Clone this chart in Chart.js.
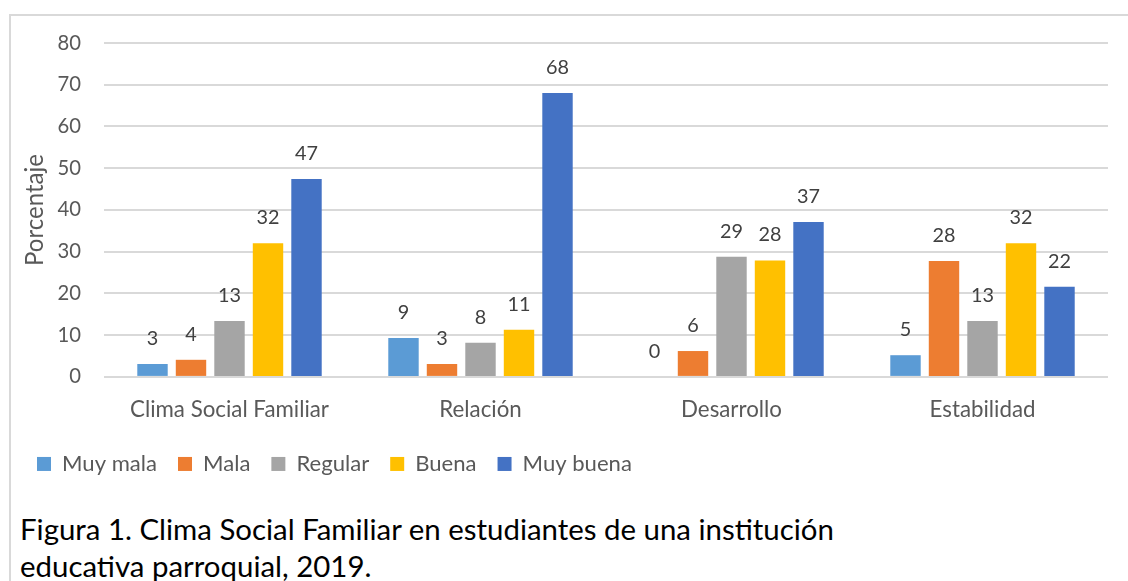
<!DOCTYPE html>
<html>
<head>
<meta charset="utf-8">
<script src="https://cdn.jsdelivr.net/npm/chart.js@4.4.1/dist/chart.umd.min.js"></script>
<style>
  html, body { margin: 0; padding: 0; background: #ffffff; }
  body { width: 1128px; height: 581px; overflow: hidden; position: relative; }
  #frame { position: absolute; left: 9px; top: 14px; width: 1200px; height: 700px;
           border-left: 2px solid #d9d9d9; border-top: 2px solid #d9d9d9; box-sizing: border-box; }
  #wrap { position: absolute; left: 0; top: 0; width: 1128px; height: 495px; }
  #caption { position: absolute; left: 20px; top: 510px; font-family: Lato, "Liberation Sans", sans-serif;
             font-size: 28px; line-height: 37px; color: #000; white-space: nowrap; }
</style>
</head>
<body>
<div id="frame"></div>
<div id="wrap"><canvas id="c" width="1128" height="495"></canvas></div>
<div id="caption"><div id="cap1">Figura 1. Clima Social Familiar en estudiantes de una institución</div><div>educativa parroquial, 2019.</div></div>
<script>
const categories = ["Clima Social Familiar", "Relación", "Desarrollo", "Estabilidad"];
const seriesNames = ["Muy mala", "Mala", "Regular", "Buena", "Muy buena"];
const muyMala  = [3.1, 9.3, 0, 5.2];
const mala     = [4.1, 3.1, 6.2, 27.8];
const regular  = [13.4, 8.2, 28.8, 13.4];
const buena    = [32.0, 11.3, 27.9, 32.0];
const muyBuena = [47.4, 68.0, 37.1, 21.6];
const yTicks = [0, 10, 20, 30, 40, 50, 60, 70, 80];
const colors = ["#5B9BD5", "#ED7D31", "#A5A5A5", "#FFC000", "#4472C4"];

const FONT = 'Lato, "Liberation Sans", sans-serif';

// font sizes fitted to the reference text widths
const meas = document.createElement('canvas').getContext('2d');
function fit(text, target, base) {
  meas.font = base + 'px ' + FONT;
  return +(base * target / meas.measureText(text).width).toFixed(2);
}
const xSize = fit('Clima Social Familiar', 199, 18);
const ySize = fit('80', 23.5, 20);
const legendSize = fit('Muy mala', 95, 18);
const labelSize = fit('47', 23, 20);
const titleSize = fit('Porcentaje', 112, 20);
document.getElementById('caption').style.fontSize =
  fit(document.getElementById('cap1').textContent, 815, 28) + 'px';

const valueLabels = {
  id: 'valueLabels',
  afterDatasetsDraw(chart) {
    const ctx = chart.ctx;
    ctx.save();
    ctx.font = labelSize + 'px ' + FONT;
    ctx.fillStyle = '#404040';
    ctx.textAlign = 'center';
    ctx.textBaseline = 'alphabetic';
    chart.data.datasets.forEach((ds, i) => {
      const meta = chart.getDatasetMeta(i);
      meta.data.forEach((bar, j) => {
        ctx.fillText(String(Math.round(ds.data[j])), bar.x, bar.y - 19);
      });
    });
    ctx.restore();
  }
};

const seriesData = [muyMala, mala, regular, buena, muyBuena];
new Chart(document.getElementById('c'), {
  type: 'bar',
  data: {
    labels: categories,
    datasets: seriesNames.map((n, i) => ({
      label: n,
      data: seriesData[i],
      backgroundColor: colors[i],
      borderWidth: 0,
      categoryPercentage: 0.767,
      barPercentage: 0.79
    }))
  },
  options: {
    responsive: false,
    animation: false,
    layout: { padding: { left: 16, right: 20, top: 43, bottom: 10 } },
    plugins: {
      tooltip: { enabled: false },
      legend: {
        position: 'bottom',
        align: 'start',
        labels: {
          boxWidth: 14, boxHeight: 14, padding: 21,
          color: '#595959',
          font: { family: FONT, size: legendSize }
        }
      }
    },
    scales: {
      x: {
        grid: { display: false },
        border: { display: false },
        ticks: { color: '#595959', font: { family: FONT, size: xSize }, padding: 12, maxRotation: 0 },
        afterFit(s) { s.height = 55; }
      },
      y: {
        min: 0, max: 80,
        afterBuildTicks(s) { s.ticks = yTicks.map(v => ({ value: v })); },
        grid: { color: '#d9d9d9', lineWidth: 2, drawTicks: false },
        border: { display: false },
        ticks: { color: '#595959', font: { family: FONT, size: ySize }, padding: 23 },
        title: { display: true, text: 'Porcentaje', color: '#595959', font: { family: FONT, size: titleSize }, padding: { top: 5, bottom: 0 } },
        afterFit(s) { s.width = 88; }
      }
    }
  },
  plugins: [valueLabels]
});
</script>
</body>
</html>
